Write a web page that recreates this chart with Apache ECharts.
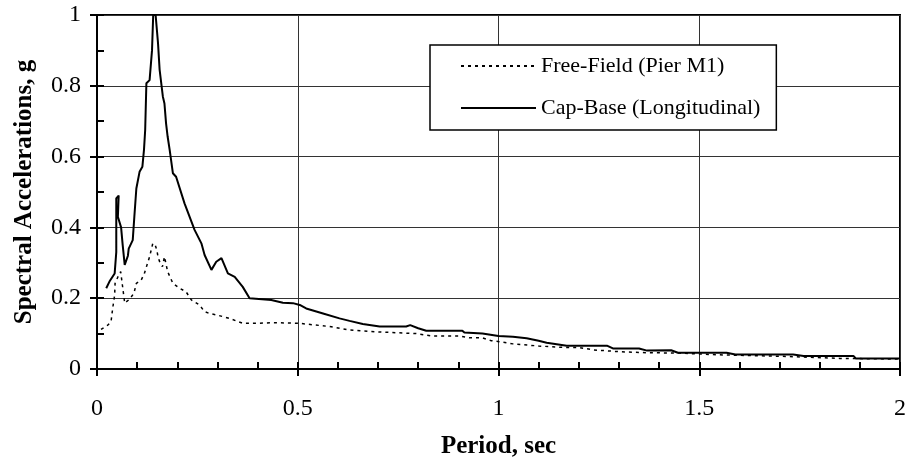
<!DOCTYPE html>
<html>
<head>
<meta charset="utf-8">
<style>
  html, body { margin: 0; padding: 0; background: #fff; }
  #chartDiv { width: 907px; height: 464px; }
</style>
</head>
<body>
<div id="chartDiv"></div>
<script src="https://cdn.jsdelivr.net/npm/echarts@6/dist/echarts.min.js"></script>
<script type="text/javascript">
// period (sec), spectral acceleration (g)
var freeFieldPeriod = [0.01, 0.027, 0.035, 0.039, 0.044, 0.045, 0.052, 0.059, 0.069, 0.081, 0.092, 0.098, 0.11, 0.118, 0.127, 0.131, 0.139, 0.145, 0.149, 0.152, 0.156, 0.163, 0.168, 0.176, 0.189, 0.206, 0.222, 0.235, 0.255, 0.268, 0.28, 0.297, 0.33, 0.363, 0.397, 0.438, 0.505, 0.579, 0.629, 0.696, 0.795, 0.837, 0.903, 0.928, 0.96, 0.982, 1.003, 1.036, 1.1, 1.16, 1.2, 1.236, 1.3, 1.37, 1.45, 1.55, 1.7, 1.85, 2.0];
var freeFieldAcc = [0.112, 0.124, 0.134, 0.171, 0.209, 0.242, 0.26, 0.275, 0.186, 0.197, 0.214, 0.242, 0.251, 0.27, 0.303, 0.317, 0.355, 0.35, 0.336, 0.317, 0.303, 0.289, 0.317, 0.275, 0.242, 0.228, 0.218, 0.195, 0.181, 0.162, 0.157, 0.153, 0.143, 0.129, 0.129, 0.131, 0.129, 0.12, 0.11, 0.105, 0.1, 0.093, 0.093, 0.088, 0.088, 0.08, 0.077, 0.071, 0.065, 0.061, 0.061, 0.054, 0.049, 0.046, 0.045, 0.04, 0.036, 0.03, 0.028];

var capBasePeriod = [0.023, 0.031, 0.044, 0.048, 0.048, 0.054, 0.052, 0.06, 0.064, 0.069, 0.077, 0.079, 0.089, 0.093, 0.098, 0.106, 0.113, 0.117, 0.12, 0.123, 0.131, 0.135, 0.137, 0.14, 0.146, 0.152, 0.156, 0.164, 0.168, 0.172, 0.176, 0.181, 0.189, 0.197, 0.218, 0.243, 0.26, 0.268, 0.285, 0.297, 0.31, 0.326, 0.343, 0.363, 0.38, 0.434, 0.463, 0.488, 0.505, 0.521, 0.563, 0.604, 0.629, 0.662, 0.704, 0.77, 0.78, 0.8, 0.82, 0.91, 0.915, 0.96, 1.0, 1.036, 1.07, 1.1, 1.12, 1.17, 1.27, 1.285, 1.35, 1.37, 1.43, 1.447, 1.568, 1.59, 1.734, 1.76, 1.884, 1.89, 2.0];
var capBaseAcc = [0.228, 0.247, 0.27, 0.33, 0.482, 0.49, 0.43, 0.4, 0.35, 0.294, 0.32, 0.34, 0.364, 0.43, 0.51, 0.557, 0.571, 0.619, 0.675, 0.807, 0.816, 0.821, 0.9, 1.0, 1.0, 0.92, 0.845, 0.77, 0.75, 0.694, 0.656, 0.619, 0.553, 0.543, 0.468, 0.393, 0.355, 0.322, 0.28, 0.303, 0.313, 0.27, 0.26, 0.232, 0.2, 0.195, 0.187, 0.186, 0.181, 0.171, 0.157, 0.143, 0.136, 0.127, 0.12, 0.12, 0.124, 0.115, 0.108, 0.108, 0.103, 0.1, 0.093, 0.091, 0.087, 0.08, 0.074, 0.066, 0.066, 0.058, 0.058, 0.052, 0.053, 0.046, 0.046, 0.041, 0.041, 0.037, 0.037, 0.03, 0.03];

var xTicks = [0, 0.5, 1, 1.5, 2];
var yTicks = [0, 0.2, 0.4, 0.6, 0.8, 1];

function pairs(xs, ys) {
    var out = [];
    for (var i = 0; i < xs.length; i++) out.push([xs[i], ys[i]]);
    return out;
}

var serif = '"Liberation Serif", "Times New Roman", serif';
var myChart = echarts.init(document.getElementById('chartDiv'));

var option = {
    animation: false,
    textStyle: { fontFamily: serif, color: '#000' },
    grid: {
        left: 97, right: 7, top: 15, bottom: 95,
        outerBoundsMode: 'none',
        containLabel: false,
        show: true, borderColor: '#000', borderWidth: 2
    },
    legend: {
        orient: 'vertical',
        left: 430, top: 45,
        backgroundColor: '#fff',
        borderColor: '#000', borderWidth: 1.5,
        padding: [10, 16, 11, 30],
        itemWidth: 75, itemHeight: 14, itemGap: 20,
        itemStyle: { opacity: 0 },
        textStyle: { fontFamily: serif, fontSize: 22, color: '#000' },
        data: ['Free-Field (Pier M1)', 'Cap-Base (Longitudinal)']
    },
    xAxis: [{
        type: 'value',
        min: xTicks[0], max: xTicks[xTicks.length - 1], interval: 0.5,
        name: 'Period, sec', nameLocation: 'middle', nameGap: 65,
        nameTextStyle: { fontFamily: serif, fontSize: 25, fontWeight: 'bold', color: '#000' },
        axisLine: { lineStyle: { color: '#000', width: 2 } },
        axisTick: { inside: true, length: 7, lineStyle: { color: '#000', width: 2 } },
        minorTick: { show: true, splitNumber: 5, length: 7, lineStyle: { color: '#000', width: 2 } },
        axisLabel: { fontFamily: serif, fontSize: 24, color: '#000', margin: 28 },
        splitLine: { show: true, lineStyle: { color: '#333', width: 1 } }
    }, {
        type: 'value', position: 'bottom',
        min: 0, max: 2, interval: 0.5,
        axisLine: { show: false },
        axisTick: { inside: false, length: 7, lineStyle: { color: '#000', width: 2 } },
        axisLabel: { show: false },
        splitLine: { show: false }
    }],
    yAxis: [{
        type: 'value',
        min: yTicks[0], max: yTicks[yTicks.length - 1], interval: 0.2,
        name: 'Spectral Accelerations, g', nameLocation: 'middle', nameGap: 60,
        nameTextStyle: { fontFamily: serif, fontSize: 25, fontWeight: 'bold', color: '#000' },
        axisLine: { lineStyle: { color: '#000', width: 2 } },
        axisTick: { inside: true, length: 7, lineStyle: { color: '#000', width: 2 } },
        minorTick: { show: true, splitNumber: 2, length: 7, lineStyle: { color: '#000', width: 2 } },
        axisLabel: { fontFamily: serif, fontSize: 24, color: '#000', margin: 16 },
        splitLine: { show: true, lineStyle: { color: '#333', width: 1 } }
    }, {
        type: 'value', position: 'left',
        min: 0, max: 1, interval: 0.2,
        axisLine: { show: false },
        axisTick: { inside: false, length: 7, lineStyle: { color: '#000', width: 2 } },
        axisLabel: { show: false },
        splitLine: { show: false }
    }],
    series: [{
        name: 'Free-Field (Pier M1)',
        type: 'line',
        symbol: 'none',
        clip: true,
        color: '#000',
        lineStyle: { color: '#000', width: 1.5, type: [3, 4] },
        data: pairs(freeFieldPeriod, freeFieldAcc)
    }, {
        name: 'Cap-Base (Longitudinal)',
        type: 'line',
        symbol: 'none',
        clip: true,
        color: '#000',
        lineStyle: { color: '#000', width: 2 },
        data: pairs(capBasePeriod, capBaseAcc)
    }]
};

myChart.setOption(option);
</script>
</body>
</html>
